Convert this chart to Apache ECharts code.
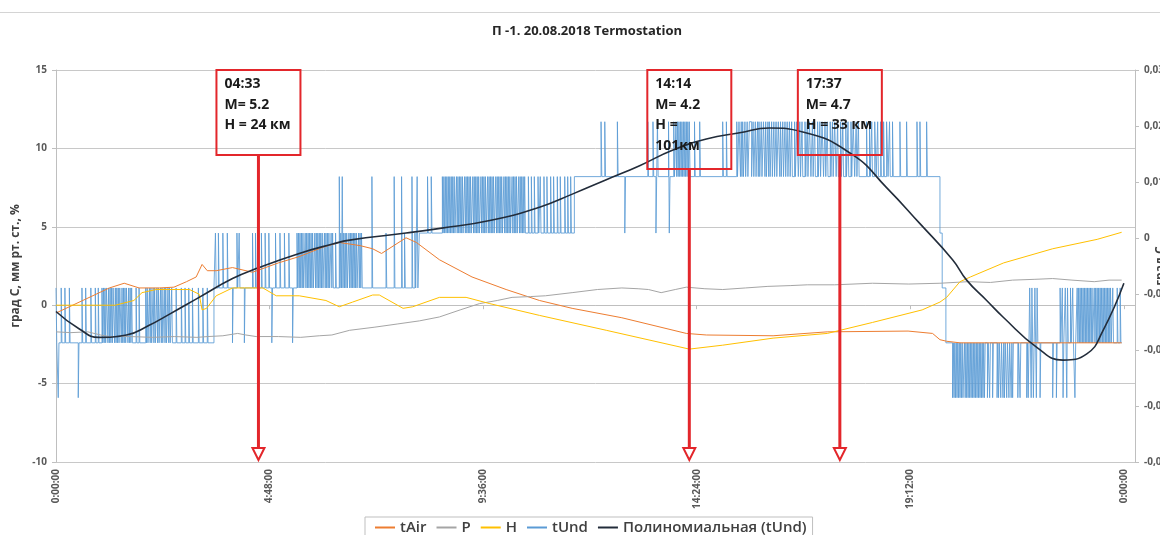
<!DOCTYPE html>
<html>
<head>
<meta charset="utf-8">
<script src="https://cdn.jsdelivr.net/npm/echarts@6.0.0/dist/echarts.min.js"></script>
<style>
  html, body { margin: 0; padding: 0; background: #ffffff; }
  #chart { width: 1160px; height: 535px; }
</style>
</head>
<body>
<div id="chart"></div>
<script>
// Time axis runs in minutes from midnight; ticks every 4:48
const xTickStep = 288;
const xTickLabels = ['0:00:00', '4:48:00', '9:36:00', '14:24:00', '19:12:00', '0:00:00'];

// Air temperature, [minute, °C]
const tAir = [
  [0, -0.5], [27, 0.1], [72, 1.1], [92, 1.4], [112, 1.1], [140, 1.1], [159, 1.15], [176, 1.5],
  [189, 1.8], [197, 2.6], [204, 2.2], [216, 2.2], [238, 2.4], [265, 2.1], [300, 2.7], [328, 3.1],
  [360, 3.7], [382, 4.0], [410, 3.8], [427, 3.6], [439, 3.3], [472, 4.3], [486, 4.0], [517, 2.9],
  [561, 1.8], [607, 1.0], [652, 0.3], [696, -0.2], [763, -0.8], [850, -1.8], [877, -1.9],
  [967, -1.95], [1040, -1.7], [1149, -1.65], [1182, -1.8], [1192, -2.2], [1201, -2.3],
  [1219, -2.4], [1437, -2.4]
];

// Pressure
const pressure = [
  [0, -1.7], [20, -1.75], [43, -1.7], [60, -1.9], [72, -2.0], [100, -2.0], [130, -2.05], [160, -2.0],
  [190, -2.05], [205, -2.0], [225, -1.95], [245, -1.8], [256, -1.9], [270, -2.0], [300, -2.0],
  [330, -2.05], [355, -1.95], [372, -1.9], [396, -1.6], [430, -1.4], [460, -1.2], [490, -1.0],
  [517, -0.75], [545, -0.3], [571, 0.1], [595, 0.3], [615, 0.5], [640, 0.55], [660, 0.6],
  [696, 0.8], [730, 1.0], [763, 1.1], [785, 1.05], [799, 1.0], [816, 0.8], [835, 1.0], [850, 1.15],
  [875, 1.05], [899, 1.0], [930, 1.1], [960, 1.2], [990, 1.25], [1013, 1.3], [1050, 1.3],
  [1101, 1.4], [1150, 1.35], [1192, 1.4], [1230, 1.5], [1260, 1.45], [1290, 1.6], [1320, 1.65],
  [1344, 1.7], [1370, 1.6], [1400, 1.5], [1420, 1.6], [1437, 1.6]
];

// Humidity
const humidity = [
  [0, 0.0], [40, 0.0], [80, 0.0], [105, 0.3], [116, 0.8], [135, 1.0], [180, 1.0], [193, 0.7],
  [197, -0.3], [203, -0.2], [216, 0.6], [238, 1.1], [279, 1.1], [297, 0.6], [328, 0.6], [364, 0.3],
  [382, -0.1], [400, 0.2], [427, 0.65], [436, 0.65], [468, -0.2], [481, -0.1], [517, 0.5],
  [553, 0.5], [585, 0.1], [652, -0.65], [742, -1.6], [854, -2.8], [899, -2.55], [967, -2.1],
  [1040, -1.8], [1101, -1.1], [1168, -0.3], [1192, 0.2], [1201, 0.5], [1219, 1.5], [1233, 1.8],
  [1278, 2.7], [1344, 3.6], [1404, 4.2], [1437, 4.65]
];

// Polynomial trend of tUnd
const tUndTrend = [
  [0, -0.4], [31, -1.5], [58, -2.05], [95, -1.9], [125, -1.3], [152, -0.6], [193, 0.5], [238, 1.7],
  [271, 2.35], [328, 3.3], [373, 3.9], [396, 4.15], [472, 4.6], [518, 4.9], [585, 5.4], [652, 6.25],
  [697, 7.1], [742, 8.0], [787, 8.9], [832, 9.9], [877, 10.6], [922, 11.0], [962, 11.3],
  [1007, 11.05], [1074, 9.6], [1120, 7.5], [1165, 5.2], [1209, 2.9], [1228, 1.6], [1255, 0.3],
  [1277, -0.75], [1323, -2.7], [1358, -3.5], [1390, -3.1], [1412, -1.6], [1440, 1.4]
];

// tUnd: baseline level changes [minute, level], then one-minute excursions per level
const tUndEnd = 1437;
const tUndBase = [[0, 1.1], [1, -2.4], [213, 1.1], [490, 4.6], [699, 8.2], [1192, 4.6], [1195, 1.1], [1200, -2.4]];
const tUndAtM59 = [3, 30,
  1209, 1211, 1213, 1215, 1217, 1219, 1221, 1223, 1224, 1226, 1228, 1230, 1232, 1234, 1236, 1238,
  1240, 1242, 1244, 1246, 1248, 1250, 1252, 1256, 1259, 1263, 1269, 1271, 1274, 1277, 1279, 1282,
  1285, 1288, 1290, 1297, 1300, 1309, 1311, 1315, 1318, 1322, 1327, 1344, 1349, 1358, 1363, 1374];
const tUndAtM24 = [238, 254, 291, 319];
const tUndAt11 = [7, 12, 18, 35, 40, 47, 53, 57, 62, 64, 66, 68, 69, 71, 73, 75, 77, 78, 80, 82, 84,
  86, 87, 89, 91, 93, 95, 96, 98, 100, 102, 108, 112, 121, 123, 126, 128, 131, 133, 136, 138, 141,
  143, 146, 148, 151, 153, 156, 162, 169, 174, 179, 184, 192, 198, 204,
  1313, 1316, 1320, 1323, 1354, 1357, 1361, 1364, 1368, 1371, 1377, 1379, 1381, 1383, 1385, 1387,
  1389, 1391, 1393, 1395, 1397, 1400, 1402, 1404, 1406, 1408, 1410, 1412, 1414, 1416, 1418, 1420,
  1422, 1425, 1431, 1435];
const tUndAt46 = [215, 219, 225, 231, 244, 247, 265, 269, 277, 282, 287, 296, 302, 308, 314, 325,
  327, 329, 331, 333, 336, 338, 340, 342, 344, 346, 349, 351, 353, 355, 357, 359, 362, 364, 366,
  368, 371, 373, 377, 384, 388, 390, 392, 395, 397, 399, 401, 403, 405, 408, 410, 412, 445, 470, 484,
  767, 809, 827];
const tUndAt82 = [382, 386, 426, 456, 466, 480, 487,
  501, 506, 521, 523, 525, 527, 529, 531, 533, 535, 537, 540, 542, 544, 546, 548, 551, 553, 555,
  557, 559, 562, 564, 566, 568, 570, 573, 575, 577, 579, 582, 584, 586, 588, 590, 593, 595, 597,
  599, 601, 604, 606, 608, 610, 612, 615, 617, 619, 621, 624, 626, 628, 630, 632, 637, 641, 645,
  650, 653, 658, 662, 667, 671, 676, 680, 686, 690, 694];
const tUndAt117 = [735, 740, 757, 798, 805, 811, 826, 833, 836, 838, 840, 842, 844, 846, 848, 850,
  852, 854, 861, 868, 899, 904, 918, 921, 922, 924, 926, 929, 932, 935, 936, 937, 940, 943, 946,
  948, 951, 954, 955, 957, 960, 962, 965, 968, 971, 974, 975, 977, 980, 983, 986, 989, 992, 996,
  999, 1000, 1003, 1006, 1010, 1013, 1016, 1017, 1020, 1023, 1027, 1030, 1033, 1034, 1037, 1040,
  1044, 1047, 1050, 1051, 1054, 1058, 1061, 1065, 1068, 1072, 1075, 1076, 1079, 1082, 1093, 1097,
  1100, 1104, 1105, 1108, 1112, 1116, 1120, 1121, 1124, 1128, 1138, 1147, 1161, 1165, 1174];

// Seismic events shown as callouts
const eventTimes = ['04:33', '14:14', '17:37'];
const eventM = ['M= 5.2', 'M= 4.2', 'M= 4.7'];
const eventH = ['H = 24 км', 'H =\n101км', 'H = 33 км'];

function buildTUnd() {
  const levels = [[-5.9, tUndAtM59], [-2.4, tUndAtM24], [1.1, tUndAt11], [4.6, tUndAt46], [8.2, tUndAt82], [11.7, tUndAt117]];
  const excursion = new Map();
  levels.forEach(([lv, arr]) => arr.forEach(m => excursion.set(m, lv)));
  const pts = [];
  let bi = 0, prev = null;
  for (let t = 0; t <= tUndEnd; t++) {
    while (bi + 1 < tUndBase.length && tUndBase[bi + 1][0] <= t) bi++;
    const v = excursion.has(t) ? excursion.get(t) : tUndBase[bi][1];
    if (v !== prev || t === tUndEnd) { pts.push([t, v]); prev = v; }
  }
  return pts;
}

const toMinutes = s => { const [h, m] = s.split(':').map(Number); return h * 60 + m; };
const eventData = eventTimes.map((t, i) => [toMinutes(t), i]);

const axisFont = { fontFamily: 'Open Sans', fontWeight: 'bold', fontSize: 10, color: '#595959' };
const red = '#e3262b';

const chart = echarts.init(document.getElementById('chart'));
chart.setOption({
  animation: false,
  backgroundColor: '#ffffff',
  graphic: [
    { type: 'line', shape: { x1: 0, y1: 12.5, x2: 1160, y2: 12.5 }, style: { stroke: '#d4d4d4', lineWidth: 1 } },
    { type: 'text', x: 587, y: 31, style: { text: 'П -1. 20.08.2018 Termostation', fontFamily: 'Open Sans', fontWeight: 'bold', fontSize: 13, fill: '#262626', textAlign: 'center', textVerticalAlign: 'middle' } }
  ],
  grid: { left: 56, right: 25, top: 70, bottom: 73, containLabel: false, outerBoundsMode: 'none' },
  legend: {
    data: ['tAir', 'P', 'H', 'tUnd', 'Полиномиальная (tUnd)'],
    left: 365, top: 517,
    icon: 'rect',
    itemWidth: 20, itemHeight: 2, itemGap: 10,
    padding: [3, 6, 3, 10],
    borderColor: '#bfbfbf', borderWidth: 1,
    textStyle: { fontFamily: 'Open Sans', fontWeight: 600, fontSize: 15, color: '#404040' }
  },
  xAxis: {
    type: 'value', min: 0, max: 1455, interval: xTickStep,
    axisLine: { show: true, lineStyle: { color: '#bfbfbf', width: 1 } },
    axisTick: { show: true, length: 4, lineStyle: { color: '#bfbfbf' } },
    splitLine: { show: false },
    axisLabel: Object.assign({
      rotate: 90, margin: 7, showMaxLabel: false,
      formatter: v => (v % xTickStep === 0 ? xTickLabels[v / xTickStep] : '')
    }, axisFont)
  },
  yAxis: [
    {
      type: 'value', min: -10, max: 15, interval: 5,
      name: 'град С, мм рт. ст., %', nameLocation: 'middle', nameGap: 24, nameRotate: 90,
      nameTextStyle: { fontFamily: 'Open Sans', fontWeight: 'bold', fontSize: 12, color: '#404040' },
      axisLine: { show: true, lineStyle: { color: '#bfbfbf' } },
      axisTick: { show: true, length: 4, lineStyle: { color: '#bfbfbf' } },
      splitLine: { show: true, lineStyle: { color: '#c8c8c8', width: 1 } },
      axisLabel: Object.assign({ margin: 9 }, axisFont)
    },
    {
      type: 'value', min: -0.04, max: 0.03, interval: 0.01, position: 'right',
      name: 'град С', nameLocation: 'middle', nameGap: 20, nameRotate: 90, nameMoveOverlap: false,
      nameTextStyle: { fontFamily: 'Open Sans', fontWeight: 'bold', fontSize: 12, color: '#404040' },
      axisLine: { show: true, lineStyle: { color: '#bfbfbf' } },
      axisTick: { show: true, length: 4, lineStyle: { color: '#bfbfbf' } },
      splitLine: { show: false },
      axisLabel: Object.assign({
        margin: 9,
        formatter: v => (Math.abs(v) < 1e-9 ? '0' : v.toFixed(2).replace('.', ','))
      }, axisFont)
    }
  ],
  series: [
    { name: 'tAir', type: 'line', data: tAir, symbol: 'none', z: 3, lineStyle: { color: '#ED7D31', width: 1 }, itemStyle: { color: '#ED7D31' } },
    { name: 'P', type: 'line', data: pressure, symbol: 'none', z: 3, lineStyle: { color: '#A5A5A5', width: 1 }, itemStyle: { color: '#A5A5A5' } },
    { name: 'H', type: 'line', data: humidity, symbol: 'none', z: 3, lineStyle: { color: '#FFC000', width: 1 }, itemStyle: { color: '#FFC000' } },
    { name: 'tUnd', type: 'line', data: buildTUnd(), step: 'end', symbol: 'none', z: 2, lineStyle: { color: '#5B9BD5', width: 1, opacity: 0.85 }, itemStyle: { color: '#5B9BD5' } },
    { name: 'Полиномиальная (tUnd)', type: 'line', data: tUndTrend, smooth: 0.5, symbol: 'none', z: 4, lineStyle: { color: '#222c3a', width: 1.6 }, itemStyle: { color: '#222c3a' } },
    {
      name: 'events', type: 'custom', data: eventData, z: 5, clip: false, silent: true,
      renderItem: (params, api) => {
        const i = api.value(1);
        const x = api.coord([api.value(0), 0])[0];
        const top = api.coord([0, 15])[1];
        const bottom = api.coord([0, -10])[1];
        const text = eventTimes[i] + '\n' + eventM[i] + '\n' + eventH[i];
        const lines = text.split('\n').length;
        const boxW = 84, boxH = Math.max(85, lines * 20 + 19);
        const left = x - boxW / 2;
        return {
          type: 'group',
          children: [
            { type: 'rect', shape: { x: left, y: top, width: boxW, height: boxH }, style: { fill: 'none', stroke: red, lineWidth: 2 } },
            { type: 'text', x: left + 8, y: top + 4, style: { text: text, fontFamily: 'Open Sans', fontWeight: 'bold', fontSize: 14, lineHeight: 20.5, fill: '#1a1a1a' } },
            { type: 'line', shape: { x1: x, y1: top + boxH, x2: x, y2: bottom - 14 }, style: { stroke: red, lineWidth: 3 } },
            { type: 'polygon', shape: { points: [[x - 6, bottom - 14], [x + 6, bottom - 14], [x, bottom - 2]] }, style: { fill: '#ffffff', stroke: red, lineWidth: 2 } }
          ]
        };
      }
    }
  ]
});
</script>
</body>
</html>
